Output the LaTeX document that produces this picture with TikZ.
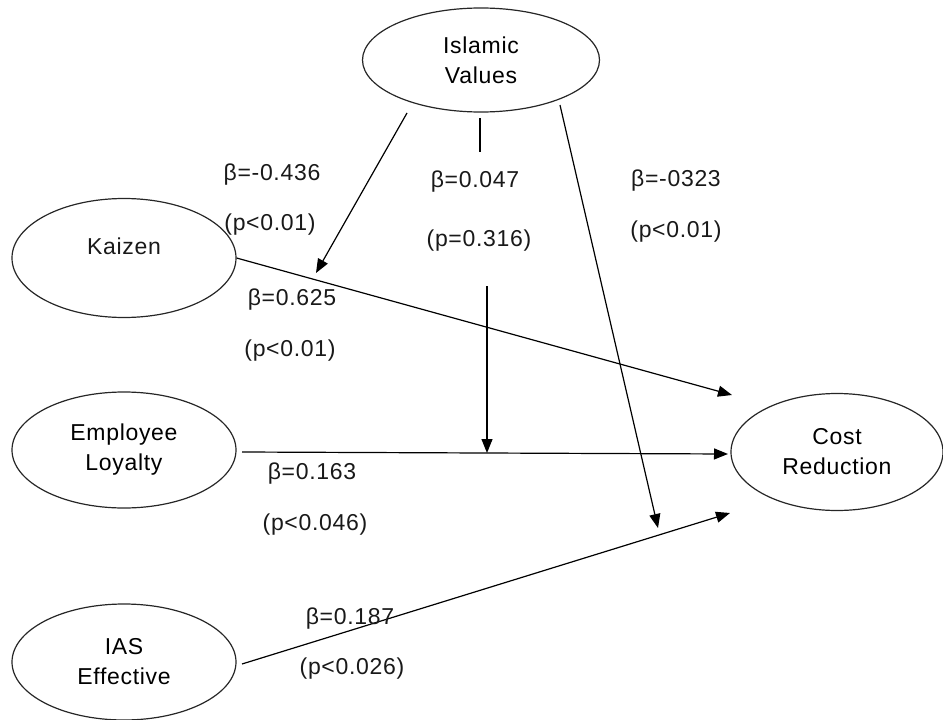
\documentclass[tikz,border=0pt]{standalone}
\usepackage{fontspec}
\setmainfont{Liberation Sans}[LetterSpace=3]
\usetikzlibrary{arrows.meta,shapes.geometric}
\begin{document}
\begin{tikzpicture}[x=1pt,y=-1pt,
  ell/.style={draw=black!85,line width=1.2pt,ellipse,inner sep=0pt,align=center,
    font=\fontsize{23}{30}\selectfont},
  lbl/.style={inner sep=0pt,font=\fontsize{23}{30}\selectfont,text=black!90},
  arr/.style={draw=black,line width=1.2pt,-{Triangle[length=14pt,width=11pt]}},
  ln/.style={draw=black,line width=1.2pt}]
\useasboundingbox (0,0) rectangle (943,720);
% ellipses
\node[ell,minimum width=237pt,minimum height=104pt] (islamic) at (481,60) {Islamic\\Values};
\node[ell,minimum width=224pt,minimum height=119pt] (kaizen) at (124,258) {};
\node[lbl] (kaizenT) at ([yshift=12pt]kaizen.center) {Kaizen};
\node[ell,minimum width=224pt,minimum height=116pt] (employee) at (124,450) {Employee\\Loyalty};
\node[ell,minimum width=224pt,minimum height=116pt] (ias) at (124,662) {IAS\\Effective};
\node[ell,minimum width=212pt,minimum height=117pt] (cost) at (837,452) {Cost\\Reduction};
% connector end points
\coordinate (kzEnd) at (732,395);
\coordinate (elStart) at (242,452);
\coordinate (elEnd) at (728,454);
\coordinate (iaStart) at (242,664);
\coordinate (iaEnd) at (730,513);
\coordinate (ivLStart) at (407,113);
\coordinate (ivLEnd) at (316,273);
\coordinate (ivMStart) at (480,118);
\coordinate (ivMStop) at (480,152);
\coordinate (ivMResume) at (487,286);
\coordinate (ivMEnd) at (487,453);
\coordinate (ivRStart) at (560,105);
\coordinate (ivREnd) at (658,528);
% connectors
\draw[arr] (kaizen.east) -- (kzEnd);
\draw[arr] (elStart) -- (elEnd);
\draw[arr] (iaStart) -- (iaEnd);
\draw[arr] (ivLStart) -- (ivLEnd);
\draw[ln] (ivMStart) -- (ivMStop);
\draw[arr] (ivMResume) -- (ivMEnd);
\draw[arr] (ivRStart) -- (ivREnd);
% labels
\node[lbl] (b1) at (272,175) {β=-0.436};
\node[lbl] (p1) at (270,225) {(p<0.01)};
\node[lbl] (b2) at (475,182) {β=0.047};
\node[lbl] (p2) at (479,241) {(p=0.316)};
\node[lbl] (b3) at (676,181) {β=-0323};
\node[lbl] (p3) at (676,232) {(p<0.01)};
\node[lbl] (b4) at (292,300) {β=0.625};
\node[lbl] (p4) at (290,351) {(p<0.01)};
\node[lbl] (b5) at (312,474) {β=0.163};
\node[lbl] (p5) at (315,525) {(p<0.046)};
\node[lbl] (b6) at (350,619) {β=0.187};
\node[lbl] (p6) at (352,669) {(p<0.026)};
\end{tikzpicture}
\end{document}
